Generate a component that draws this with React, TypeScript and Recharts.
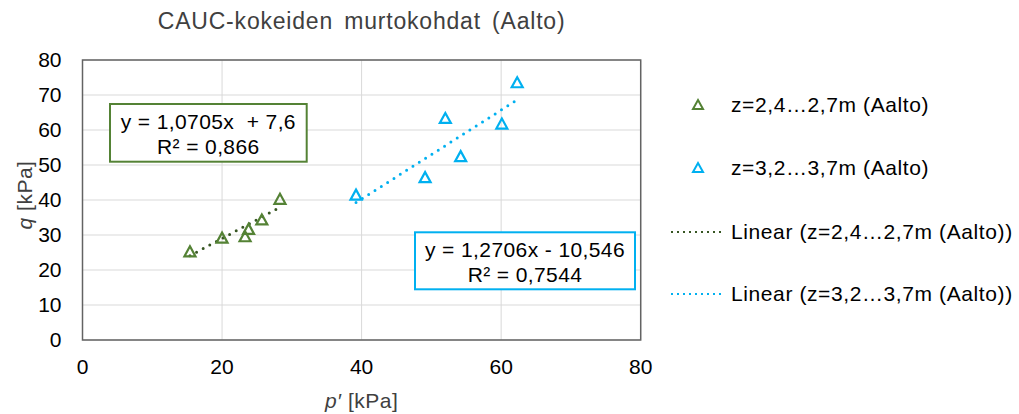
import React from 'react';
import {
  ScatterChart,
  Scatter,
  XAxis,
  YAxis,
  CartesianGrid,
  ReferenceLine,
  ReferenceArea,
  Customized,
} from 'recharts';

// ---- data ----
const greenName = 'z=2,4…2,7m (Aalto)';
const blueName = 'z=3,2…3,7m (Aalto)';
const greenP = [15.4, 20.0, 23.3, 23.8, 25.7, 28.3];
const greenQ = [25.2, 29.1, 29.5, 31.6, 34.3, 40.2];
const blueP = [39.2, 49.1, 52.0, 54.2, 60.1, 62.3];
const blueQ = [41.4, 46.4, 63.3, 52.4, 61.7, 73.5];
const greenFit = { slope: 1.0705, intercept: 7.6, r2: '0,866', eq: 'y = 1,0705x  + 7,6' };
const blueFit = { slope: 1.2706, intercept: -10.546, r2: '0,7544', eq: 'y = 1,2706x - 10,546' };
const xTicks = [0, 20, 40, 60, 80];
const yTicks = [0, 10, 20, 30, 40, 50, 60, 70, 80];
const title = 'CAUC-kokeiden murtokohdat (Aalto)';

const GREEN = '#548235';
const GREEN_TREND = '#375623';
const BLUE = '#00B0F0';
const FONT = '"Liberation Sans", Arial, sans-serif';
const W = 1019;
const H = 414;

const greenData = greenP.map((p, i) => ({ p, q: greenQ[i] }));
const blueData = blueP.map((p, i) => ({ p, q: blueQ[i] }));

function fitSegment(xs: number[], fit: { slope: number; intercept: number }) {
  const x1 = Math.min(...xs);
  const x2 = Math.max(...xs);
  return [
    { x: x1, y: fit.slope * x1 + fit.intercept },
    { x: x2, y: fit.slope * x2 + fit.intercept },
  ];
}

const Tri = (color: string) => (props: any) => {
  const { cx, cy } = props;
  if (cx == null || cy == null) return null;
  return (
    <polygon
      points={`${cx},${cy - 5.5} ${cx + 5.5},${cy + 4.5} ${cx - 5.5},${cy + 4.5}`}
      fill="none"
      stroke={color}
      strokeWidth={2.2}
    />
  );
};

const legendItems = [
  { kind: 'marker', color: GREEN, label: greenName },
  { kind: 'marker', color: BLUE, label: blueName },
  { kind: 'line', color: GREEN_TREND, label: `Linear (${greenName})` },
  { kind: 'line', color: BLUE, label: `Linear (${blueName})` },
];

function Decorations() {
  const rowY = [105, 168, 232, 294];
  return (
    <g fontFamily={FONT}>
      <text
        x={361.6}
        y={29}
        textAnchor="middle"
        fontSize={23}
        letterSpacing={0.8}
        wordSpacing={4}
        fill="#404040"
      >
        {title}
      </text>
      <text x={361.6} y={408} textAnchor="middle" fontSize={21} letterSpacing={0.5} fill="#404040">
        <tspan fontStyle="italic">p′</tspan>
        <tspan> [kPa]</tspan>
      </text>
      <text
        x={32}
        y={195}
        textAnchor="middle"
        fontSize={21}
        letterSpacing={0.5}
        fill="#404040"
        transform="rotate(-90 32 195)"
      >
        <tspan fontStyle="italic">q</tspan>
        <tspan> [kPa]</tspan>
      </text>

      {/* equation boxes */}
      <rect x={110} y={104} width={196.7} height={57.7} fill="#fff" stroke={GREEN} strokeWidth={2} />
      <text x={208.3} y={129} textAnchor="middle" fontSize={21} letterSpacing={0.4} fill="#000" style={{ whiteSpace: 'pre' }}>
        {greenFit.eq}
      </text>
      <text x={208.3} y={154} textAnchor="middle" fontSize={21} letterSpacing={0.4} fill="#000">
        {`R² = ${greenFit.r2}`}
      </text>
      <rect x={415} y={232.3} width={220} height={57} fill="#fff" stroke={BLUE} strokeWidth={2} />
      <text x={525} y={257} textAnchor="middle" fontSize={21} letterSpacing={0.4} fill="#000">
        {blueFit.eq}
      </text>
      <text x={525} y={282} textAnchor="middle" fontSize={21} letterSpacing={0.4} fill="#000">
        {`R² = ${blueFit.r2}`}
      </text>

      {/* legend */}
      {legendItems.map((it, i) => {
        const y = rowY[i];
        return (
          <g key={i}>
            {it.kind === 'marker' ? (
              <polygon
                points={`698,${y - 5} 703,${y + 4} 693,${y + 4}`}
                fill="none"
                stroke={it.color}
                strokeWidth={2}
              />
            ) : (
              <line
                x1={671}
                y1={y}
                x2={722}
                y2={y}
                stroke={it.color}
                strokeWidth={2}
                strokeDasharray="2 4"
              />
            )}
            <text x={731} y={y + 7} fontSize={21} letterSpacing={0.6} fill="#000">
              {it.label}
            </text>
          </g>
        );
      })}
    </g>
  );
}

export default function App() {
  const gSeg = fitSegment(greenP, greenFit);
  const bSeg = fitSegment(blueP, blueFit);
  return (
    <div style={{ position: 'absolute', left: 0, top: 0, width: W, height: H, background: '#fff' }}>
      <ScatterChart
        width={W}
        height={H}
        margin={{ top: 60, right: 378.3, bottom: 44, left: 22.5 }}
      >
        <CartesianGrid stroke="#d9d9d9" strokeWidth={1} />
        <XAxis
          type="number"
          dataKey="p"
          domain={[0, 80]}
          ticks={xTicks}
          interval={0}
          height={30}
          tickLine={false}
          axisLine={false}
          tickSize={0}
          tickMargin={19}
          tick={{ fontSize: 21, fill: '#000', fontFamily: FONT }}
        />
        <YAxis
          type="number"
          dataKey="q"
          domain={[0, 80]}
          ticks={yTicks}
          interval={0}
          width={60}
          tickLine={false}
          axisLine={false}
          tickSize={0}
          tickMargin={21}
          tick={{ fontSize: 21, fill: '#000', fontFamily: FONT }}
        />
        <ReferenceArea x1={0} x2={80} y1={0} y2={80} fill="none" stroke="#636363" strokeWidth={1.5} strokeOpacity={1} fillOpacity={0} />
        <Scatter name={greenName} data={greenData} shape={Tri(GREEN)} isAnimationActive={false} />
        <Scatter name={blueName} data={blueData} shape={Tri(BLUE)} isAnimationActive={false} />
        <ReferenceLine
          segment={gSeg}
          stroke={GREEN_TREND}
          strokeWidth={3}
          strokeDasharray="0 7.5"
          strokeLinecap="round"
        />
        <ReferenceLine
          segment={bSeg}
          stroke={BLUE}
          strokeWidth={3}
          strokeDasharray="0 7.5"
          strokeLinecap="round"
        />
        <Customized component={Decorations} />
      </ScatterChart>
    </div>
  );
}
